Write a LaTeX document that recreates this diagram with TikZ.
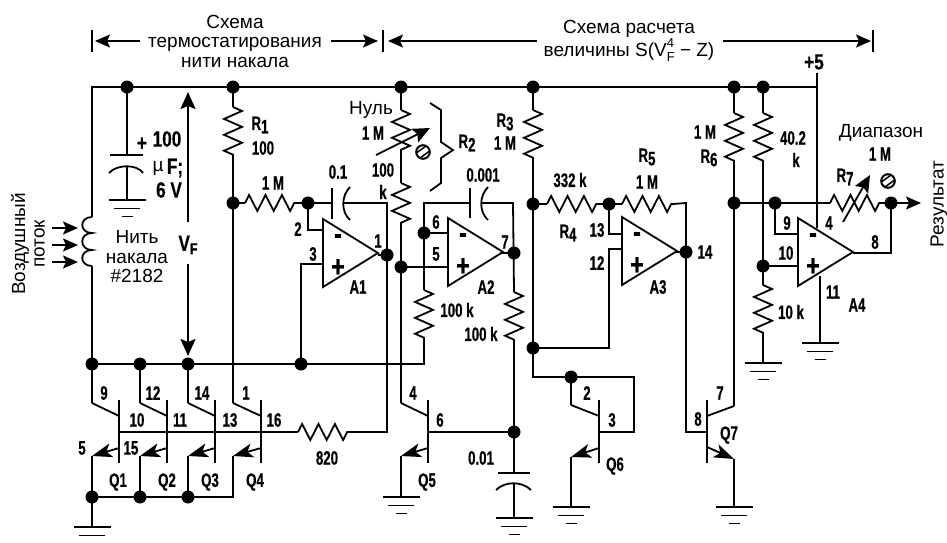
\documentclass[tikz,border=0pt]{standalone}
\usepackage{fontspec}
\setmainfont{Liberation Sans}
\newfontfamily\lblfont[FakeStretch=0.68,FakeBold=0.5]{Liberation Sans Bold}
\newfontfamily\biglblfont[FakeStretch=0.78,FakeBold=0.5]{Liberation Sans Bold}
\usetikzlibrary{arrows.meta,decorations.pathmorphing}
\def\lowered#1{\raisebox{-3.5pt}{#1}}
\tikzset{wire/.style={line width=1.8pt},
    res/.style={wire,decorate,decoration={zigzag,segment length=15.9pt,amplitude=9pt}},
    hres/.style={wire,decorate,decoration={zigzag,segment length=16.4pt,amplitude=8pt}},
    dot/.style={circle,fill=black,inner sep=0pt,minimum size=13pt},
    lbl/.style={inner sep=0pt,font=\lblfont\fontsize{19.5}{20}\selectfont},
    biglbl/.style={inner sep=0pt,font=\biglblfont\fontsize{22}{22}\selectfont},
    txt/.style={inner sep=0pt,align=center,font=\fontsize{19}{19.5}\selectfont},
    sign/.style={inner sep=0pt,font=\biglblfont\fontsize{30}{30}\selectfont},
    bigarrow/.style={wire,-{Stealth[length=17pt,width=15pt,inset=3pt]}},
    dimarrow/.style={wire,-{Stealth[length=15pt,width=13pt,inset=3pt]}},
    emarrow/.style={wire,-{Stealth[length=20pt,width=14pt,inset=5pt]}}}

\begin{document}
\begin{tikzpicture}[x=1pt,y=-1pt]
    \useasboundingbox (0,0) rectangle (947,542);
    % junctions and ends of parts
    \foreach \pt/\x/\y in {railL/92/87, c1top/127/87, r1top/233/87, r2top/401/87, r3top/533/87,
        r6top/734/87, r8top/763/87, railR/817/87, plus5/817/73, a4pwr/817/228,
        coil0/92/217, coil1/92/233, coil2/92/250, coil3/92/266,
        fil/92/364, row2/140/364, row3/188/364, row4/301/364, rowR/424/364,
        r1a/233/107, r1b/233/155, r1m/233/203, r9a/245/203, r9b/297/203, a1in/308/203,
        c2a/332/203, c2b/344/203, a1fb/387/203, a1o/387/255, r820c/387/432, r820a/298/432, r820b/350/432,
        a1ma/308/230, a1mb/323/230, a1pa/301/264, a1pb/323/264, a1t/378/255,
        r2a/401/110, r2b/401/156, r2c/401/183, r2d/401/230, r2m/401/267, a2pb/448/267,
        a2m/424/233, a2mb/448/233, a2fa/424/203, c3a/470/203, c3b/482/203, a2fb/513/203, a2t/500/253, a2o/514/253,
        ra/424/290, rb/424/338, rc/514/292, rd/514/342, q5bb/514/432, c4a/514/473, c4b/514/484, g5/514/518,
        r3a/533/110, r3b/533/158, r3m/533/204, r3n/533/348, r3e/533/377, q6n/571/377, q6r/634/377, q6s/634/432,
        r4a/547/204, r4b/602/204, a3m/609/204, a3ma/609/234, a3mb/622/234, r5a/622/204, r5b/673/204,
        a3f/686/203, a3o/686/252, a3t/676/252, a3pa/622/249, a3pb/609/249, a3pc/609/348,
        r6a/734/113, r6b/734/163, r6m/734/203, r8a/763/113, r8b/763/163, r8m/763/266, r8c/763/285, r8d/763/333,
        a4pa/798/266, a4fb/775/203, a4fa/775/234, a4mb/798/234, r7a/830/203, r7b/880/203, a4o/891/203, a4r/921/203,
        a4t/853/253, a4c/891/253, a4g/820/276,
        c1a/127/155, c1b/127/167, g1/127/200, g2/92/527, g3/401/497, g4/571/507, g6/734/507, g7/763/363, g8/820/343,
        q14/233/497, e1/92/497, e2/140/497, e3/188/497} {
        \coordinate (\pt) at (\x,\y);
    }
    % transistors: name / lead / bar / collector end / emitter start / emitter end
    \foreach \q/\w/\b/\cc/\es/\ee in {q1/92/119/403/448/456, q2/140/167/403/448/456, q3/188/215/403/448/456,
        q4/233/261/403/448/456, q5/401/428/403/448/456, q6/571/599/405/448/457, q7/734/707/406/447/459} {
        \draw[wire] (\b,400) -- (\b,463);
        \coordinate (\q c) at (\w,\cc);
        \coordinate (\q b) at (\b,432);
        \coordinate (\q e) at (\w,\ee);
        \draw[wire] (\q c) -- (\b,416);
        \draw[emarrow] (\b,\es) -- (\q e);
    }
    % opamps
    \foreach \amp/\x/\y in {a1/323/219, a2/448/218, a3/622/217, a4/798/218} {
        \draw[wire] (\x,\y) -- ++(55,34) -- ++(-55,34) -- cycle;
        \node[sign] (\amp minus) at (\x+15,\y+20) {-};
        \node[sign] (\amp plus) at (\x+15,\y+49) {+};
    }
    % grounds
    \foreach \g in {g1,g2,g3,g4,g5,g6,g7,g8} {
        \draw[wire] ([xshift=-18.5pt]\g) -- ([xshift=18.5pt]\g);
        \draw[wire] ([xshift=-13pt,yshift=-8.5pt]\g) -- ([xshift=13pt,yshift=-8.5pt]\g);
    }
    \foreach \g in {g1,g3,g4,g5,g6,g7,g8} {
        \draw[wire] ([xshift=-5.5pt,yshift=-16.5pt]\g) -- ([xshift=5.5pt,yshift=-16.5pt]\g);
    }
    % resistors
    \foreach \a/\b in {r1a/r1b, r2a/r2b, r2c/r2d, ra/rb, rc/rd, r3a/r3b, r6a/r6b, r8a/r8b, r8c/r8d} {
        \draw[res] (\a) -- (\b);
    }
    \foreach \a/\b in {r9a/r9b, r820a/r820b, r4a/r4b, r5a/r5b, r7a/r7b} {
        \draw[hres] (\a) -- (\b);
    }
    % wires
    \draw[wire] (plus5) -- (a4pwr);
    \draw[wire] (coil3) -- (fil) -- (q1c);
    \draw[wire] (coil0) -- (railL) -- (railR);
    \draw[wire] (coil0) .. controls (79,217) and (79,233) .. (coil1)
                        .. controls (79,233) and (79,250) .. (coil2)
                        .. controls (79,250) and (79,266) .. (coil3);
    \draw[wire] (fil) -- (rowR) -- (rb);
    \draw[wire] (ra) -- (a2m) -- (a2fa) -- (c3a);
    \draw[wire] (row2) -- (q2c);
    \draw[wire] (row3) -- (q3c);
    \draw[wire] (r1top) -- (r1a);
    \draw[wire] (r1b) -- (q4c);
    \draw[wire] (r1m) -- (r9a);
    \draw[wire] (r9b) -- (c2a);
    \draw[wire] (c2b) -- (a1fb) -- (r820c) -- (r820b);
    \draw[wire] (q1b) -- (r820a);
    \draw[wire] (a1t) -- (a1o);
    \draw[wire] (a1in) -- (a1ma) -- (a1mb);
    \draw[wire] (row4) -- (a1pa) -- (a1pb);
    \draw[wire] (r2top) -- (r2a);
    \draw[wire] (r2b) -- (r2c);
    \draw[wire] (r2d) -- (q5c);
    \draw[wire] (r2m) -- (a2pb);
    \draw[wire] (a2m) -- (a2mb);
    \draw[wire] (c3b) -- (a2fb) -- (rc);
    \draw[wire] (a2t) -- (a2o);
    \draw[wire] (rd) -- (c4a);
    \draw[wire] (c4b) -- (g5);
    \draw[wire] (q5b) -- (q5bb);
    \draw[wire] (r3top) -- (r3a);
    \draw[wire] (r3b) -- (r3e) -- (q6r) -- (q6s) -- (q6b);
    \draw[wire] (q6n) -- (q6c);
    \draw[wire] (r3m) -- (r4a);
    \draw[wire] (r4b) -- (r5a);
    \draw[wire] (r5b) -- (a3f) -- (a3f |- q7b) -- (q7b);
    \draw[wire] (a3m) -- (a3ma) -- (a3mb);
    \draw[wire] (a3pa) -- (a3pb) -- (a3pc) -- (r3n);
    \draw[wire] (a3t) -- (a3o);
    \draw[wire] (r6top) -- (r6a);
    \draw[wire] (r6b) -- (q7c);
    \draw[wire] (r8top) -- (r8a);
    \draw[wire] (r8b) -- (r8c);
    \draw[wire] (r8d) -- (g7);
    \draw[wire] (r6m) -- (r7a);
    \draw[wire] (r8m) -- (a4pa);
    \draw[wire] (a4fb) -- (a4fa) -- (a4mb);
    \draw[wire] (r7b) -- (a4o);
    \draw[wire] (a4t) -- (a4c) -- (a4o);
    \draw[wire] (a4g) -- (g8);
    \draw[wire] (c1top) -- (c1a);
    \draw[wire] (c1b) -- (g1);
    \draw[wire] (q1e) -- (g2);
    \draw[wire] (q2e) -- (e2);
    \draw[wire] (q3e) -- (e3);
    \draw[wire] (q4e) -- (q14) -- (e1);
    \draw[wire] (q5e) -- (g3);
    \draw[wire] (q6e) -- (g4);
    \draw[wire] (q7e) -- (g6);
    % capacitor plates
    \draw[wire] (110,155) -- (143,155);
    \draw[wire] (109,173) .. controls (117,164) and (137,164) .. (143,173);
    \draw[wire] (498,473) -- (530,473);
    \draw[wire] (496,490) .. controls (505,481) and (522,481) .. (531,490);
    \draw[wire] (332,188) -- (332,219);
    \draw[wire] (350,187) .. controls (341,196) and (341,212) .. (350,220);
    \draw[wire] (470,188) -- (470,218);
    \draw[wire] (488,187) .. controls (479,196) and (479,212) .. (488,220);
    % brace of R2
    \draw[wire] (430,103) -- (441,110) -- (441,142) -- (453,150) -- (441,158) -- (441,183) -- (430,191);
    % adjusters
    \draw[bigarrow] (376,155) -- (430,128);
    \draw[bigarrow] (843,222) -- (870,175);
    \foreach \sx/\sy in {423/152, 888/181} {
        \draw[line width=2pt] (\sx,\sy) circle[radius=6.8pt];
        \draw[line width=1.5pt] (\sx-6,\sy+0.5) -- (\sx+3,\sy-6);
        \draw[line width=1.5pt] (\sx-3,\sy+6) -- (\sx+6,\sy-0.5);
    }
    % arrows
    \draw[bigarrow] (188,222) -- (188,92);
    \draw[bigarrow] (188,264) -- (188,356);
    \draw[dimarrow] (a4o) -- (a4r);
    \foreach \ay in {228,245,262} {
        \draw[dimarrow] (52,\ay) -- (78,\ay);
    }
    \draw[wire] (92,30) -- (92,52);
    \draw[wire] (383,30) -- (383,52);
    \draw[wire] (873,30) -- (873,52);
    \draw[dimarrow] (140,41) -- (95,41);
    \draw[dimarrow] (331,41) -- (378,41);
    \draw[dimarrow] (537,41) -- (388,41);
    \draw[dimarrow] (723,41) -- (871,41);
    % dots
    \foreach \j in {c1top,r1top,r2top,r3top,r6top,r8top,fil,row2,row3,row4,r1m,a1in,a1o,r2m,a2m,a2o,q5bb,
        r3m,r3n,q6n,a3m,a3o,r6m,a4fb,r8m,a4o,e1,e2,e3} {
        \node[dot] (dot\j) at (\j) {};
    }
    % labels
    \foreach \t/\x/\y [count=\i] in {R\lowered{1}/260/125, 100/263/148, 1 M/273/183, 0.1/338/172, 1 M/373/133,
        100/383/170, k/383/192, 2/298/229, 3/313/254, 1/378/241, A1/358/287,
        R\lowered{2}/467/143, 0.001/483/175, 6/436/222, 5/436/254, 7/505/242, A2/486/287, 100 k/457/310, 100 k/481/334,
        R\lowered{3}/505/122, 1 M/505/143, 332 k/570/180, R\lowered{4}/568/233, 13/597/230, 12/597/263,
        R\lowered{5}/647/157, 1 M/647/182, A3/658/287, 14/705/252, 1 M/705/132, R\lowered{6}/709/158,
        40.2/793/138, k/796/160, 1 M/880/154, R\lowered{7}/845/177, 9/787/223, 10/786/253, 4/829/223,
        8/875/242, 11/833/292, A4/857/305, 10 k/791/312,
        9/104/393, 10/137/420, 12/153/393, 11/180/420, 14/202/393, 13/230/420, 1/246/393, 16/274/420, 5/82/448, 15/131/448,
        Q1/118/482, Q2/167/482, Q3/210/482, Q4/255/482, 820/327/458,
        4/413/393, 6/440/420, Q5/427/482, 0.01/481/458, 2/587/393, 3/612/420, Q6/615/466, 7/720/393, 8/698/419, Q7/729/435} {
        \node[lbl] (lbl\i) at (\x,\y) {\t};
    }
    \foreach \t/\x/\y [count=\i] in {+/142/144, 100/167/139, F;/175/168, 6 V/169/190, +5/814/62,
        V\lowered{\fontsize{16}{16}\selectfont F}/188/245} {
        \node[biglbl] (big\i) at (\x,\y) {\t};
    }
    \node[txt] (mu) at (158,168) {µ};
    % texts
    \node[txt] (head1) at (235,41) {Схема\\термостатирования\\нити накала};
    \node[txt] (head2) at (629,41) {Схема расчета\\величины S(V\rlap{\raisebox{9pt}{\fontsize{13}{13}\selectfont 4}}\raisebox{-5pt}{\fontsize{13}{13}\selectfont F} − Z)};
    \node[txt] (nit) at (137,257) {Нить\\накала\\\#2182};
    \node[txt] (nul) at (371,110) {Нуль};
    \node[txt] (diap) at (881,133) {Диапазон};
    \node[txt,rotate=90] (air) at (28,244) {Воздушный\\поток};
    \node[txt,rotate=90] (res) at (939,204) {Результат};
\end{tikzpicture}
\end{document}
